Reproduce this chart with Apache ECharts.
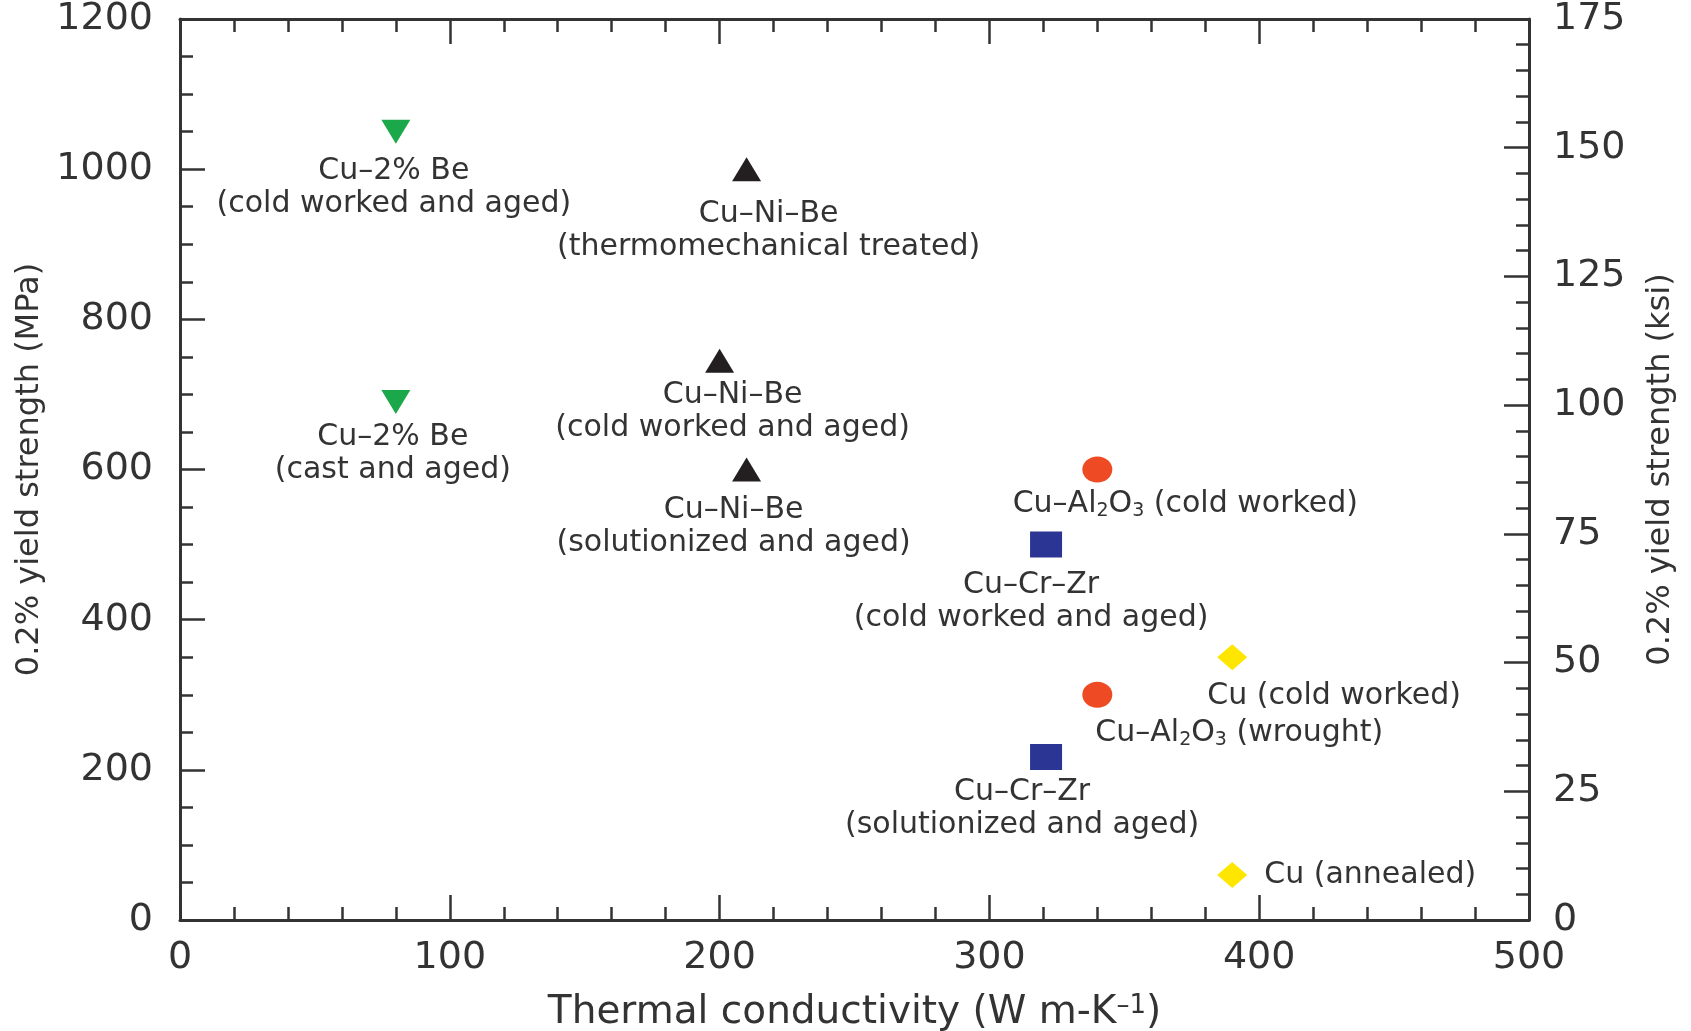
<!DOCTYPE html>
<html><head><meta charset="utf-8">
<script src="https://cdn.jsdelivr.net/npm/echarts@6/dist/echarts.min.js"></script>
<style>html,body{margin:0;padding:0;background:#fff}#c{width:1691px;height:1031px}</style>
</head><body><div id="c"></div>
<script>
// ---- data ----
const materials = [
  'Cu–2% Be\n(cold worked and aged)',
  'Cu–2% Be\n(cast and aged)',
  'Cu–Ni–Be\n(thermomechanical treated)',
  'Cu–Ni–Be\n(cold worked and aged)',
  'Cu–Ni–Be\n(solutionized and aged)',
  'Cu–Al₂O₃ (cold worked)',
  'Cu–Cr–Zr\n(cold worked and aged)',
  'Cu (cold worked)',
  'Cu–Al₂O₃ (wrought)',
  'Cu–Cr–Zr\n(solutionized and aged)',
  'Cu (annealed)'
];
const conductivity = [80, 80, 210, 200, 210, 340, 321, 390, 340, 321, 390];
const yieldStrengthMPa = [1050, 690, 1000, 745, 600, 600, 500, 350, 300, 217, 60];
const alloyFamily = ['Cu–Be', 'Cu–Be', 'Cu–Ni–Be', 'Cu–Ni–Be', 'Cu–Ni–Be', 'Cu–Al2O3', 'Cu–Cr–Zr', 'Cu', 'Cu–Al2O3', 'Cu–Cr–Zr', 'Cu'];
const xAxisTitle = 'Thermal conductivity (W m-K{sup|–1})';
const leftAxisTitle = '0.2% yield strength (MPa)';
const rightAxisTitle = '0.2% yield strength (ksi)';
const xRange = [0, 500], xStep = 100;
const mpaRange = [0, 1200], mpaStep = 200;
const ksiRange = [0, 175], ksiStep = 25;

// ---- styles ----
const FONT = 'DejaVu Sans';
const INK = '#333333';
const familyStyle = {
  'Cu–Be':     {symbol: 'triangle', rotate: 180, color: '#1aa84a', size: [29, 24]},
  'Cu–Ni–Be':  {symbol: 'triangle', rotate: 0,   color: '#231f20', size: [29, 24]},
  'Cu–Al2O3':  {symbol: 'circle',   rotate: 0,   color: '#ee4a23', size: [30, 26]},
  'Cu–Cr–Zr':  {symbol: 'rect',     rotate: 0,   color: '#2b3593', size: [32, 26]},
  'Cu':        {symbol: 'diamond',  rotate: 0,   color: '#ffe600', size: [30, 26]}
};
// label offsets (px) from marker centre, per point
const labelPlace = [
  {dx: -2, dy: 56}, {dx: -3, dy: 52}, {dx: 22, dy: 62}, {dx: 13, dy: 51}, {dx: -13, dy: 57},
  {dx: 88, dy: 35}, {dx: -15, dy: 57}, {dx: 102, dy: 39}, {dx: 142, dy: 38}, {dx: -24, dy: 52},
  {dx: 32, dy: 0, align: 'left'}
];

function toRich(s) { return s.replace(/₂/g, '{sub|2}').replace(/₃/g, '{sub|3}'); }

const families = Object.keys(familyStyle);
const series = families.map(f => {
  const st = familyStyle[f];
  const data = [];
  materials.forEach((m, i) => {
    if (alloyFamily[i] !== f) return;
    const p = labelPlace[i];
    data.push({
      name: m,
      value: [conductivity[i], yieldStrengthMPa[i]],
      label: {offset: [p.dx, p.dy], align: p.align || 'center'}
    });
  });
  return {
    type: 'scatter', name: f, xAxisIndex: 0, yAxisIndex: 0,
    symbol: st.symbol, symbolRotate: st.rotate, symbolSize: st.size,
    itemStyle: {color: st.color, opacity: 1},
    label: {
      show: true, position: 'inside', color: INK, fontFamily: FONT, fontSize: 30, lineHeight: 33,
      textBorderWidth: 0, verticalAlign: 'middle',
      formatter: p => toRich(p.name),
      rich: {sub: {fontSize: 19, fontFamily: FONT, color: INK, verticalAlign: 'bottom', lineHeight: 16}}
    },
    emphasis: {disabled: true},
    data
  };
});

const axLine = {show: true, onZero: false, lineStyle: {color: INK, width: 3}};
const tick = {show: true, inside: true, length: 25, lineStyle: {color: INK, width: 2.5}};
const minor = n => ({show: true, splitNumber: n, length: 13, lineStyle: {color: INK, width: 2.5}});
const lbl = m => ({color: INK, fontFamily: FONT, fontSize: 38, margin: m, formatter: v => String(v)});

const option = {
  animation: false,
  backgroundColor: '#ffffff',
  grid: {left: 180, right: 162, top: 19, bottom: 111, containLabel: false, outerBoundsMode: 'none'},
  xAxis: [
    {type: 'value', position: 'bottom', min: xRange[0], max: xRange[1], interval: xStep,
     axisLine: axLine, axisTick: tick, minorTick: minor(5), splitLine: {show: false}, minorSplitLine: {show: false},
     axisLabel: lbl(19),
     name: xAxisTitle, nameLocation: 'middle', nameGap: 73,
     nameTextStyle: {color: INK, fontFamily: FONT, fontSize: 39,
       rich: {sup: {fontSize: 26, fontFamily: FONT, color: INK, verticalAlign: 'top', lineHeight: 22}}}},
    {type: 'value', position: 'top', min: xRange[0], max: xRange[1], interval: xStep,
     axisLine: axLine, axisTick: tick, minorTick: minor(5), splitLine: {show: false},
     axisLabel: {show: false}}
  ],
  yAxis: [
    {type: 'value', position: 'left', min: mpaRange[0], max: mpaRange[1], interval: mpaStep,
     axisLine: axLine, axisTick: tick, minorTick: minor(4), splitLine: {show: false},
     axisLabel: lbl(27),
     name: leftAxisTitle, nameLocation: 'middle', nameRotate: 90, nameGap: 118,
     nameTextStyle: {color: INK, fontFamily: FONT, fontSize: 32}},
    {type: 'value', position: 'right', min: ksiRange[0], max: ksiRange[1], interval: ksiStep,
     axisLine: axLine, axisTick: tick, minorTick: minor(5), splitLine: {show: false},
     axisLabel: lbl(24),
     name: rightAxisTitle, nameLocation: 'middle', nameRotate: 90, nameGap: 116,
     nameTextStyle: {color: INK, fontFamily: FONT, fontSize: 32}}
  ],
  series
};
const chart = echarts.init(document.getElementById('c'), null, {renderer: 'canvas'});
chart.setOption(option);
</script>
</body></html>
